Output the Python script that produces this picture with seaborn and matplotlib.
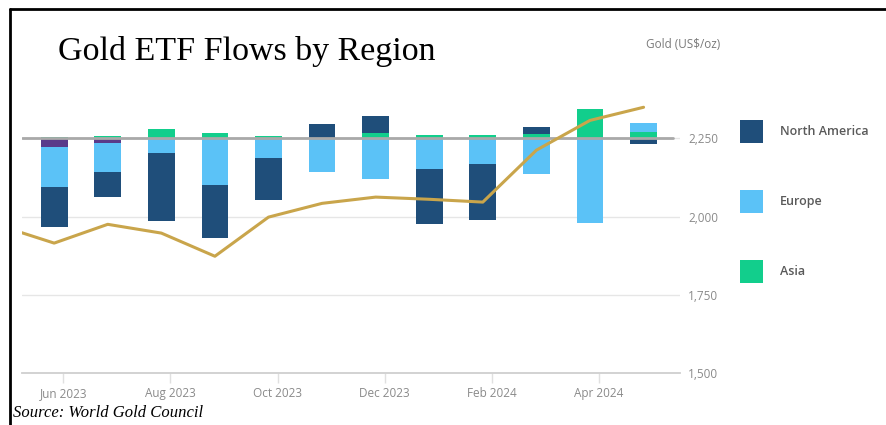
import numpy as np
import pandas as pd
import matplotlib
matplotlib.use("Agg")
import matplotlib.pyplot as plt
import seaborn as sns
from matplotlib.patches import Patch
from matplotlib.lines import Line2D
from matplotlib.ticker import FuncFormatter

# ---------------- data ----------------
months = ["May 2023", "Jun 2023", "Jul 2023", "Aug 2023", "Sep 2023", "Oct 2023",
          "Nov 2023", "Dec 2023", "Jan 2024", "Feb 2024", "Mar 2024", "Apr 2024", "May 2024"]
gold_price = [1970, 1915, 1975, 1947, 1873, 1998, 2042, 2062, 2055, 2046, 2212, 2307, 2349]

bar_months = months[1:]
north_america = [-20.3, -12.5, -34.2, -26.7, -20.8, 7.3, 8.3, -27.9, -28.4, 3.3, 0.0, -2.7]
europe = [-20.0, -14.5, -7.3, -23.2, -9.9, -16.8, -20.5, -15.2, -12.7, -18.0, -42.4, 4.2]
asia = [0.8, 1.0, 4.4, 2.7, 1.0, 0.0, 2.8, 1.5, 1.5, 2.3, 14.8, 3.2]
other = [-4.3, -2.3, 0, 0, 0, 0, 0, 0, 0, 0, 0, 0]

tick_labels = ["Jun 2023", "Aug 2023", "Oct 2023", "Dec 2023", "Feb 2024", "Apr 2024"]
price_ticks = [1500, 1750, 2000, 2250]
baseline_price = 2250

# ---------------- style ----------------
C_NA = "#1F4E7A"
C_EU = "#5BC2F7"
C_AS = "#12CE8C"
C_OT = "#5A3A8A"
C_GOLD = "#C9A54B"

sns.set_theme(style="white")
plt.rcParams["font.family"] = ["Open Sans", "DejaVu Sans"]

W, H = 887, 425
fig = plt.figure(figsize=(W / 100, H / 100), dpi=100)
rect = [22 / W, 52 / H, (680 - 22) / W, (373 - 60) / H]

ax = fig.add_axes(rect)            # price grid layer
axb = ax.twinx()                   # flows (bars), hidden
axl = ax.twinx()                   # price line + labels

ax.set_ylim(1500, 2500)
ax.set_xlim(-0.6, 11.68)
ax.set_yticks(price_ticks)
ax.yaxis.grid(True, color="#e6e6e6", lw=1)
ax.tick_params(axis="y", left=False, right=False, labelleft=False, labelright=False)
for s in ["top", "left", "right"]:
    ax.spines[s].set_visible(False)
ax.spines["bottom"].set_color("#cfcfcf")
ax.spines["bottom"].set_linewidth(1.3)

xpos = np.arange(len(bar_months))
tick_pos = [i + 0.17 for i, m in enumerate(bar_months) if m in tick_labels]
ax.set_xticks(tick_pos)
ax.set_xticklabels(tick_labels)
ax.tick_params(axis="x", bottom=True, length=7, width=1, color="#e0e0e0",
               labelcolor="#8a8a8a", labelsize=8.5, pad=3)

# bars layer
axb.set_ylim(-117.4, 39.1)
axb.axis("off")

series = {"North America": (north_america, C_NA), "Europe": (europe, C_EU),
          "Asia": (asia, C_AS), "Other": (other, C_OT)}
pos_order = ["Asia", "North America", "Europe", "Other"]
neg_order = ["Other", "Europe", "North America", "Asia"]

pos_cum = np.zeros(len(bar_months))
neg_cum = np.zeros(len(bar_months))
bottoms = {name: np.zeros(len(bar_months)) for name in series}
for name in pos_order:
    v = np.array(series[name][0], dtype=float)
    bottoms[name] = np.where(v > 0, pos_cum, bottoms[name])
    pos_cum = pos_cum + np.where(v > 0, v, 0)
for name in neg_order:
    v = np.array(series[name][0], dtype=float)
    bottoms[name] = np.where(v < 0, neg_cum, bottoms[name])
    neg_cum = neg_cum + np.where(v < 0, v, 0)

for name in ["North America", "Europe", "Asia", "Other"]:
    vals, col = series[name]
    axb.bar(xpos, vals, bottom=bottoms[name], width=0.5, color=col,
            edgecolor="none", linewidth=0)

# line layer
axl.set_ylim(1500, 2500)
axl.axhline(baseline_price, xmin=0.0, xmax=0.99, color="#a9a9a9", lw=2, zorder=1)
df = pd.DataFrame({"pos": np.arange(-1, len(months) - 1), "price": gold_price})
sns.lineplot(data=df, x="pos", y="price", ax=axl, color=C_GOLD, lw=2.2,
             legend=False, zorder=2)
axl.set_xlim(-0.6, 11.68)
axl.set_xlabel("")
axl.set_ylabel("")
axl.set_yticks(price_ticks)
axl.yaxis.set_major_formatter(FuncFormatter(lambda v, p: f"{int(v):,}"))
axl.tick_params(axis="y", right=False, left=False, labelleft=False, labelright=True,
                length=0, pad=6, labelcolor="#8a8a8a", labelsize=8.5)
for a in (axb, axl):
    for s in a.spines.values():
        s.set_visible(False)

# texts
fig.text(58 / W, (H - 60) / H, "Gold ETF Flows by Region", family="Liberation Serif",
         size=24.5, color="black", va="baseline", ha="left")
fig.text(720 / W, (H - 45) / H, "Gold (US$/oz)", color="#7a7a7a", size=8.5,
         ha="right", va="center")
fig.text(13 / W, (H - 413) / H, "Source: World Gold Council", family="Liberation Serif",
         style="italic", size=12, color="black", ha="left", va="center")

# legend
handles = [Patch(facecolor=C_NA, edgecolor="none", label="North America"),
           Patch(facecolor=C_EU, edgecolor="none", label="Europe"),
           Patch(facecolor=C_AS, edgecolor="none", label="Asia")]
fig.legend(handles=handles, loc="upper left", bbox_to_anchor=(740 / W, (H - 120) / H),
           frameon=False, prop={"size": 9, "weight": "semibold"}, labelcolor="#5a5a5a",
           handlelength=1.85, handleheight=2.4, handletextpad=1.35, labelspacing=3.8,
           borderpad=0, borderaxespad=0)

# frame lines
fig.add_artist(Line2D([10 / W, 10 / W], [0, (H - 9) / H], color="black", lw=2,
                      transform=fig.transFigure))
fig.add_artist(Line2D([10 / W, 1], [(H - 9) / H, (H - 9) / H], color="black", lw=2,
                      transform=fig.transFigure))

fig.savefig("out.png", dpi=100)
